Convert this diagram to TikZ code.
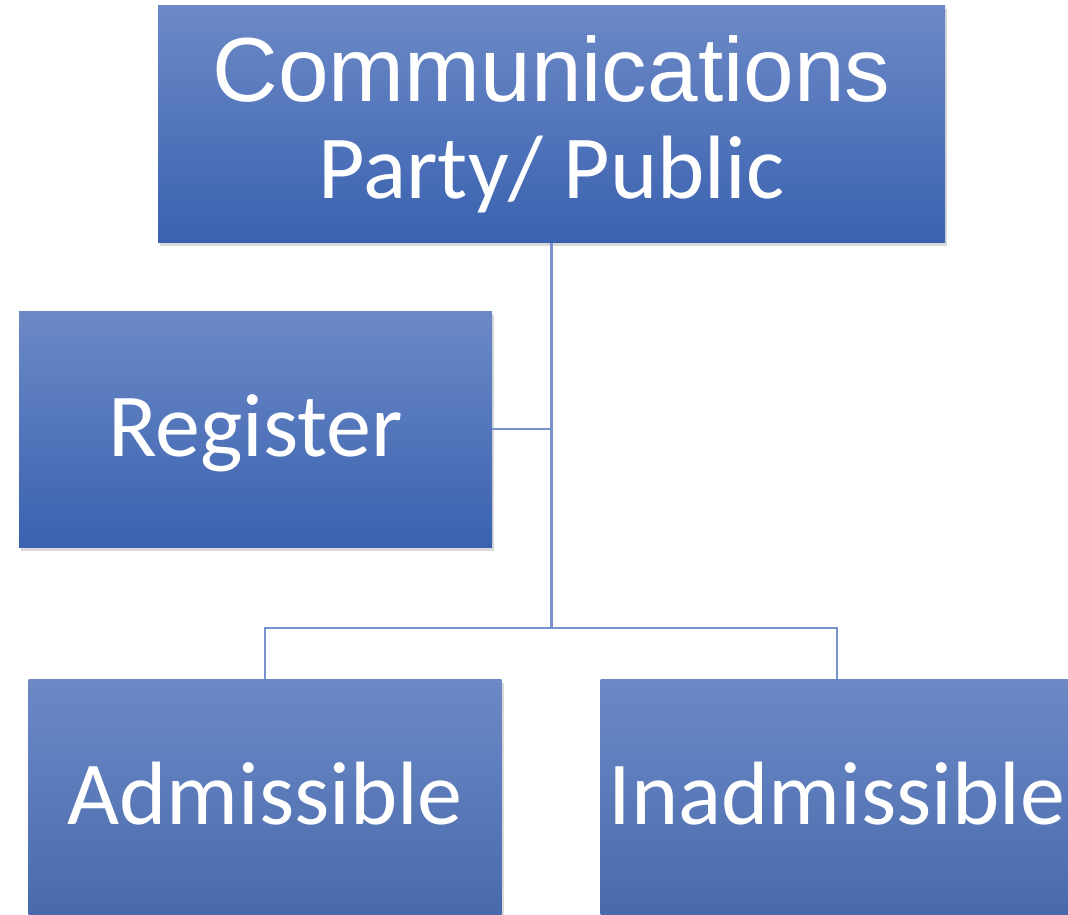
\documentclass[tikz,border=0pt]{standalone}
\usepackage{fontspec}
\setmainfont{Carlito}
\newfontfamily\arialfont{Liberation Sans}
\usetikzlibrary{shadows}

\definecolor{boxtop}{RGB}{108,137,198}
\definecolor{boxbot}{RGB}{58,98,176}
\definecolor{lowbot}{RGB}{72,106,172}
\definecolor{linkblue}{RGB}{120,146,208}

\tikzstyle{box} = [rectangle,top color=boxtop,bottom color=boxbot,text=white,
	align=center,font=\fontsize{45}{48.5}\selectfont,
	drop shadow={shadow xshift=1pt,shadow yshift=-2pt,opacity=0.3}]
\tikzstyle{leaf} = [box,minimum width=236.5pt,minimum height=118pt,
	text height=36pt,text depth=9pt]
\tikzstyle{link} = [draw=linkblue,line width=1.1pt]

\begin{document}
\begin{tikzpicture}[x=0.5pt,y=-0.5pt]
	\clip (0,0) rectangle (1068,914);
	\node[box,minimum width=393.5pt,minimum height=118.5pt] (comm) at (551.5,124)
		{{\arialfont\fontsize{45.5}{48.5}\selectfont Communications}\\Party/ Public};
	\node[leaf] (reg) at (255.5,429) {Register};
	\node[leaf,bottom color=lowbot] (adm) at (265,797) {Admissible};
	\node[leaf,bottom color=lowbot] (inadm) at (837,797) {Inadmissible};
	\coordinate (fork) at (551.5,628);
	\draw[link] (comm.south) -- (fork);
	\draw[link] (reg.east) -- (reg.east -| comm.south);
	\draw[link] (adm.north) |- (fork) -| (inadm.north);
\end{tikzpicture}
\end{document}
